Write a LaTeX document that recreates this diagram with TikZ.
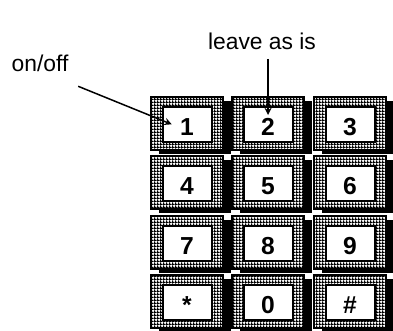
\documentclass[tikz,border=0pt]{standalone}
\usepackage{fontspec}
\setmainfont{Liberation Sans}
\usetikzlibrary{patterns,shadows}

\pgfdeclarepatternformonly{finechecker}{\pgfqpoint{0pt}{0pt}}{\pgfqpoint{1.8pt}{1.8pt}}{\pgfqpoint{1.8pt}{1.8pt}}{%
  \pgfpathrectangle{\pgfqpoint{0pt}{0pt}}{\pgfqpoint{1.8pt}{0.8pt}}%
  \pgfpathrectangle{\pgfqpoint{0pt}{0.8pt}}{\pgfqpoint{0.8pt}{1.0pt}}%
  \pgfusepath{fill}}

\tikzset{
  keycap/.style={rectangle, draw, line width=0.04cm,
    minimum width=1.44cm, minimum height=1.06cm, inner sep=0pt,
    drop shadow={shadow xshift=0.16cm, shadow yshift=-0.08cm, fill=black, opacity=1},
    preaction={fill=white}, pattern=finechecker,
    font=\fontsize{14}{16}\selectfont\bfseries, text height=13.4pt, text depth=0pt,
    path picture={\draw[line width=0.03cm, fill=white]
      ([shift={(12,10)}]path picture bounding box.north west) rectangle
      ([shift={(-11,-8)}]path picture bounding box.south east);}},
  tag/.style={font=\fontsize{13}{15}\selectfont}
}

\begin{document}
\begin{tikzpicture}[x=0.02cm, y=-0.02cm, line width=0.03cm, >=stealth]
  \useasboundingbox (0,0) rectangle (393,331);

  \node[tag] (onoff) at (40,63) {on/off};
  \node[tag] (leave) at (262,41) {leave as is};

  \node[keycap] (k1) at (187,123.5) {1};
  \node[keycap] (k2) at (268,123.5) {2};
  \node[keycap] (k3) at (350,123.5) {3};
  \node[keycap] (k4) at (187,182.5) {4};
  \node[keycap] (k5) at (268,182.5) {5};
  \node[keycap] (k6) at (350,182.5) {6};
  \node[keycap] (k7) at (187,242.5) {7};
  \node[keycap] (k8) at (268,242.5) {8};
  \node[keycap] (k9) at (350,242.5) {9};
  \node[keycap] (kstar) at (187,301.5) {*};
  \node[keycap] (k0) at (268,301.5) {0};
  \node[keycap] (khash) at (350,301.5) {\#};

  \draw[->, shorten <=0.07cm, shorten >=0.33cm] ([yshift=-0.14cm]onoff.south east) -- ([yshift=-0.14cm]k1.center);
  \draw[->, shorten <=0.06cm, shorten >=0.17cm] (leave.south -| k2) -- (k2.center);
\end{tikzpicture}
\end{document}
